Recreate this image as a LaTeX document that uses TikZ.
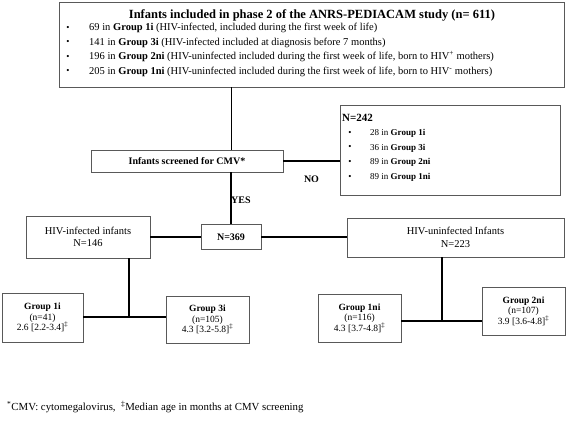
\documentclass[tikz,border=0pt]{standalone}
\usepackage{fontspec}
\setmainfont{Liberation Serif}
\begin{document}
\begin{tikzpicture}[x=1pt,y=-1pt,
    box/.style={draw=black!65,line width=0.9pt,inner sep=0pt,align=center,
      font=\fontsize{9.5}{10.5}\selectfont},
    link/.style={line width=2pt},
    txt/.style={inner sep=0pt,font=\fontsize{10.5}{12}\selectfont},
    small/.style={inner sep=0pt,font=\fontsize{9}{11}\selectfont},
    bold/.style={inner sep=0pt,font=\fontsize{10}{12}\selectfont\bfseries},
    head/.style={inner sep=0pt,font=\fontsize{12.5}{14}\selectfont\bfseries}]
  \useasboundingbox (0,0) rectangle (567,421);

  % study population
  \node[box,minimum width=505,minimum height=85] (top) at (311.5,44.5) {};
  \node[head] (top-title) at (312,15)
    {Infants included in phase 2 of the ANRS-PEDIACAM study (n= 611)};
  \foreach \n/\grp/\note [count=\i] in {
      69/1i/{HIV-infected, included during the first week of life},
      141/3i/{HIV-infected included at diagnosis before 7 months},
      196/2ni/{HIV-uninfected included during the first week of life, born to HIV\textsuperscript{+} mothers},
      205/1ni/{HIV-uninfected included during the first week of life, born to HIV\textsuperscript{-} mothers}}
  {
    \node[small] (top-dot-\i) at (68,13.5+14.5*\i) {\textbullet};
    \node[txt,anchor=west] (top-item-\i) at (89,13.5+14.5*\i)
      {\n{} in \textbf{Group \grp} (\note)};
  }

  % screening and exclusions
  \node[box,font=\fontsize{10}{12}\selectfont\bfseries,minimum width=192,minimum height=22]
    (screen) at (187,161) {Infants screened for CMV*};
  \node[box,minimum width=220,minimum height=90] (excl) at (450,150) {};
  \node[head,font=\fontsize{11}{13}\selectfont\bfseries,anchor=west] (excl-title) at (342,118) {N=242};
  \foreach \n/\grp [count=\i] in {28/1i,36/3i,89/2ni,89/1ni}
  {
    \node[small] (excl-dot-\i) at (350,118.5+14.7*\i) {\textbullet};
    \node[small,anchor=west] (excl-item-\i) at (370,118.5+14.7*\i)
      {\n{} in \textbf{Group \grp}};
  }

  % screened infants
  \node[box,font=\fontsize{10}{12}\selectfont\bfseries,minimum width=60,minimum height=25]
    (total) at (231,237) {N=369};
  \node[box,font=\fontsize{10.5}{12.5}\selectfont,minimum width=124,minimum height=42]
    (infected) at (88,237) {HIV-infected infants\\N=146};
  \node[box,font=\fontsize{10.5}{12.5}\selectfont,minimum width=217,minimum height=39]
    (uninfected) at (455.5,237.5) {HIV-uninfected Infants\\N=223};

  % groups
  \node[box,minimum width=81,minimum height=49] (g1i) at (42.5,317.5)
    {\textbf{Group 1i}\\(n=41)\\2.6 [2.2-3.4]\textsuperscript{‡}};
  \node[box,minimum width=83,minimum height=47] (g3i) at (207.5,319.5)
    {\textbf{Group 3i}\\(n=105)\\4.3 [3.2-5.8]\textsuperscript{‡}};
  \node[box,minimum width=83,minimum height=48] (g1ni) at (359.5,318)
    {\textbf{Group 1ni}\\(n=116)\\4.3 [3.7-4.8]\textsuperscript{‡}};
  \node[box,minimum width=83,minimum height=48] (g2ni) at (523.5,311)
    {\textbf{Group 2ni}\\(n=107)\\3.9 [3.6-4.8]\textsuperscript{‡}};

  \coordinate (split-i) at (129,317);
  \coordinate (split-ni) at (442,321);

  % connectors
  \draw[line width=1pt] (top.south -| total) -- (screen.north -| total);
  \draw[link] (screen.east) -- (screen.east -| excl.west)
    node[midway,below=14pt,bold] (no) {NO};
  \draw[link] (screen.south -| total) -- (total.north);
  \node[bold,anchor=west] (yes) at (231,200) {YES};
  \draw[link] (total.west) -- (total.west -| infected.east);
  \draw[link] (total.east) -- (total.east -| uninfected.west);
  \draw[link] (infected.south -| split-i) -- (split-i);
  \draw[link] (g1i.east |- split-i) -- (g3i.west |- split-i);
  \draw[link] (uninfected.south -| split-ni) -- (split-ni);
  \draw[link] (g1ni.east |- split-ni) -- (g2ni.west |- split-ni);

  % footnote
  \node[inner sep=0pt,font=\fontsize{10.8}{12}\selectfont,anchor=west] (note) at (7,407)
    {\textsuperscript{*}CMV: cytomegalovirus,\ \ \textsuperscript{‡}Median age in months at CMV screening};
\end{tikzpicture}
\end{document}
